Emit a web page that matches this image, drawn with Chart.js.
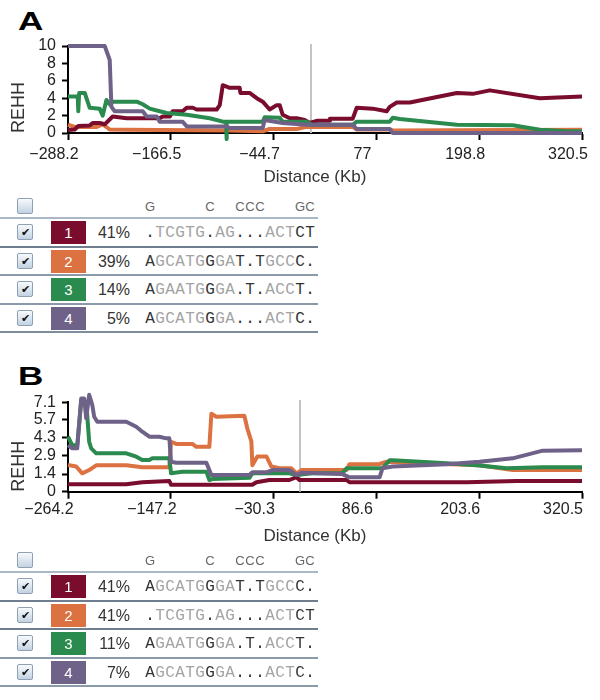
<!DOCTYPE html>
<html>
<head>
<meta charset="utf-8">
<script src="https://cdn.jsdelivr.net/npm/chart.js@4.4.1/dist/chart.umd.min.js"></script>
<style>
  body { margin: 0; background: #fff; font-family: 'Liberation Sans', Arial, sans-serif; }
  #page { position: relative; width: 600px; height: 700px; overflow: hidden; }
  .panel { position: absolute; left: 18px; font-weight: bold; font-size: 26px; line-height: 26px; color: #000; transform: scaleX(1.35); transform-origin: left top; }
  canvas.plot { position: absolute; left: 0; }
  .hap { position: absolute; left: 0; width: 318px; }
  .row { position: relative; height: 26.5px; border-bottom: 2px solid #a9b7c6; }
  .row.head { height: 22px; }
  .box { position: absolute; left: 17px; top: 50%; margin-top: -8px; width: 14px; height: 14px; border: 1px solid #8fa0b3; border-radius: 2px; background: linear-gradient(#f7fafd, #c3d2e2); font-size: 11px; line-height: 14px; text-align: center; color: #111; }
  .sw { position: absolute; left: 51px; top: 50%; margin-top: -11px; width: 35px; height: 23px; color: #fff; font-size: 15px; line-height: 23px; text-align: center; }
  .pct { position: absolute; left: 88px; width: 42px; text-align: right; top: 50%; margin-top: -8px; font-size: 16px; line-height: 18px; color: #333; }
  .seq { position: absolute; left: 145px; top: 50%; margin-top: -8px; font-family: 'Liberation Mono', 'Courier New', monospace; font-size: 16px; line-height: 18px; color: #a3a3a3; white-space: pre; }
  .seq span, .hdr span { display: inline-block; width: 10px; text-align: center; }
  .seq span.k { color: #333; }
  .hdr { position: absolute; left: 145px; top: 50%; margin-top: -7px; font-size: 13px; line-height: 16px; color: #666; white-space: pre; }
</style>
</head>
<body>
<div id="page">
  <div class="panel" style="top:8px">A</div>
  <canvas id="chartA" class="plot" width="600" height="190" style="top:0"></canvas>
  <div id="tableA" class="hap" style="top:195px"></div>

  <div class="panel" style="top:363px">B</div>
  <canvas id="chartB" class="plot" width="600" height="195" style="top:355px"></canvas>
  <div id="tableB" class="hap" style="top:549px"></div>
</div>
<script>
// axis ticks
const xTicksA = [-288.2, -166.5, -44.7, 77, 198.8, 320.5];
const yTicksA = [0, 2, 4, 6, 8, 10];
const xTicksB = [-264.2, -147.2, -30.3, 86.6, 203.6, 320.5];
const yTicksB = [0, 1.4, 2.9, 4.3, 5.7, 7.1];

// REHH curves per haplotype, [distance (Kb), REHH]
const hapA1 = [[-288.2,0.35],[-280.3,0.4],[-276,0.8],[-262.5,0.85],[-259,1.15],[-250.7,1.15],[-244.7,1.0],[-235.3,1.9],[-218.7,1.7],[-179.6,1.7],[-176.1,1.9],[-167.6,1.9],[-164.2,2.5],[-152.4,2.5],[-147.6,2.9],[-140.5,2.9],[-135.8,2.7],[-112.1,2.7],[-108.5,3.2],[-104.9,5.5],[-96.7,5.2],[-84.9,5.2],[-84,4.6],[-73.1,4.6],[-64.7,4.0],[-57.6,3.6],[-49.4,2.7],[-41.1,3.2],[-37.5,3.2],[-34,2.1],[-25.6,1.7],[-17.4,1.7],[-7.9,1.5],[-2,1.15],[6.3,1.4],[21.7,1.4],[22,1.65],[49,1.65],[53.7,2.9],[72.6,2.8],[89.2,2.5],[92.8,3.0],[101.1,3.5],[116.6,3.5],[172.2,4.6],[191.2,4.5],[211.3,4.9],[270.6,4.0],[320.5,4.2]];
const hapA2 = [[-288.2,0.95],[-280,0.7],[-254.2,0.7],[-247.1,1.0],[-238.8,0.4],[-218.7,0.38],[-96.7,0.3],[-57.6,0.2],[-49.4,0.46],[-17.4,0.46],[-5.6,0.7],[49,0.7],[53.7,0.4],[92.8,0.4],[96.4,0.3],[320.5,0.38]];
const hapA3 = [[-288.2,4.2],[-276.7,4.2],[-276,2.5],[-275,4.6],[-268.4,4.6],[-262.5,2.9],[-250.7,2.8],[-247.1,2.0],[-242.7,3.8],[-238.8,3.3],[-235.3,3.6],[-206.8,3.6],[-199.7,3.3],[-191.4,2.8],[-179.6,2.5],[-171.3,2.3],[-147.6,2.1],[-120.4,1.7],[-104.9,1.3],[-101,1.3],[-100.6,-0.7],[-100,1.3],[-57.6,1.3],[-55.3,1.8],[-37.5,1.75],[-34,1.3],[-5.6,1.3],[0.4,0.95],[49,0.95],[53.7,1.3],[92.8,1.3],[96.4,1.75],[104.7,1.6],[172.2,0.95],[238.6,0.9],[270.6,0.38],[302.6,0.2],[320.5,0.2]];
const hapA4 = [[-288.2,10],[-244.7,10],[-238.8,8.4],[-236.8,3.0],[-232.9,2.5],[-199.7,2.5],[-195,1.9],[-183.2,1.9],[-179.6,1.3],[-152.4,1.3],[-147.6,0.76],[-100.6,0.76],[-96.7,0.57],[-57.6,0.57],[-55.3,1.5],[-34,1.15],[-5.6,0.95],[49,0.95],[53.7,0.46],[92.8,0.46],[96.4,0],[320.5,0]];

const hapB1 = [[-264.2,0.59],[-197.9,0.59],[-179.7,0.75],[-148.9,0.85],[-147,0.55],[-54.5,0.55],[-49.9,0.75],[-35.1,0.93],[-12.3,0.93],[-4.3,1.15],[-0.9,0.93],[52.6,0.93],[56,0.75],[189.2,0.75],[246.2,0.85],[320.5,0.85]];
const hapB2 = [[-264.2,2.12],[-254.9,2.0],[-248,1.46],[-240.1,1.72],[-232.1,2.1],[-197.9,2.1],[-179.7,1.94],[-148.9,1.94],[-147,3.97],[-141,3.8],[-122.8,3.8],[-118.2,3.57],[-103.4,3.57],[-101.1,6.2],[-95.4,5.96],[-63.6,6.04],[-60.1,5.0],[-55.6,4.0],[-54.5,2.1],[-48.8,2.8],[-38.5,2.8],[-32.8,2.0],[-23.7,1.86],[-10,1.86],[-4.3,1.46],[1.4,1.72],[52.6,1.72],[56,2.18],[90.2,2.2],[98.1,2.38],[124.3,2.3],[204,2.1],[241.6,1.72],[320.5,1.72]];
const hapB3 = [[-264.2,4.37],[-259.4,3.7],[-253.7,3.7],[-249.2,7.15],[-243.5,7.15],[-240.1,3.97],[-237.8,3.45],[-232.1,3.05],[-197.9,3.05],[-186.5,2.78],[-179.7,2.52],[-171.7,2.52],[-168.3,2.65],[-148.9,2.65],[-147,1.46],[-134.2,1.59],[-106.8,1.59],[-103.4,0.93],[-100,1.0],[-57.9,1.1],[-54.5,1.46],[-12.3,1.46],[-4.3,1.33],[13.9,1.46],[48,1.46],[52.6,1.86],[93.6,1.86],[101.6,2.5],[105,2.5],[166.5,2.26],[200.6,2.1],[234.8,1.86],[275.8,1.94],[320.5,1.94]];
const hapB4 = [[-264.2,3.7],[-259.4,3.45],[-253.7,3.45],[-249.2,7.4],[-245.8,7.4],[-243.5,5.83],[-240.1,7.7],[-236.6,6.9],[-234.4,5.96],[-230.9,5.56],[-197.9,5.56],[-186.5,5.16],[-179.7,4.77],[-171.7,4.37],[-160.3,4.37],[-152.3,4.24],[-148.9,4.24],[-147,2.38],[-141,2.3],[-106.8,2.3],[-101.1,1.33],[-57.9,1.33],[-54.5,1.54],[-38.5,1.54],[-31.7,1.72],[-12.3,1.72],[-4.3,1.33],[1.4,1.5],[48,1.4],[56,1.14],[90.2,1.14],[93.6,1.86],[105,2.0],[166.5,2.18],[204,2.38],[241.6,2.65],[275.8,3.26],[320.5,3.3]];

const hapColors = ["#7a0c2e", "#dc7241", "#2b8a4d", "#6f6288"];
const hapNames = ["1", "2", "3", "4"];

// haplotype tables
const freqA = ["41%", "39%", "14%", "5%"];
const seqA = [".TCGTG.AG...ACTCT", "AGCATGGGAT.TGCCC.", "AGAATGGGA.T.ACCT.", "AGCATGGGA...ACTC."];
const freqB = ["41%", "41%", "11%", "7%"];
const seqB = ["AGCATGGGAT.TGCCC.", ".TCGTG.AG...ACTCT", "AGAATGGGA.T.ACCT.", "AGCATGGGA...ACTC."];
const snpHeader = "G     C  CCC   GC";

Chart.defaults.font.family = "'Liberation Sans', Arial, sans-serif";
Chart.defaults.color = "#222";

// grey line at the core SNP (distance 0)
const coreLine = {
  id: "coreLine",
  beforeDatasetsDraw(chart) {
    const { ctx, chartArea, scales } = chart;
    const x = Math.round(scales.x.getPixelForValue(0));
    ctx.save();
    ctx.strokeStyle = "#c4c4c4";
    ctx.lineWidth = 2;
    ctx.beginPath();
    ctx.moveTo(x, chartArea.top - 2);
    ctx.lineTo(x, chartArea.bottom);
    ctx.stroke();
    ctx.restore();
  },
};

// x axis caption, sits a little left of the plot centre in the original
const distCaption = {
  id: "distCaption",
  afterDraw(chart, args, opts) {
    const { ctx, chartArea } = chart;
    ctx.save();
    ctx.font = "17px 'Liberation Sans', Arial, sans-serif";
    ctx.fillStyle = "#333";
    ctx.textAlign = "center";
    ctx.textBaseline = "middle";
    ctx.fillText("Distance (Kb)", (chartArea.left + chartArea.right) / 2 - 10, opts.y);
    ctx.restore();
  },
};

function makeChart(id, curves, xTicks, yTicks, yMax, areaTop, areaBottom, labelPad, labelShift, captionY) {
  const canvas = document.getElementById(id);
  const H = canvas.height;
  const drawOrder = [2, 3, 1, 0]; // purple on top
  return new Chart(canvas.getContext("2d"), {
    type: "line",
    data: {
      datasets: curves.map((pts, i) => ({
        label: hapNames[i],
        data: pts.map((p) => ({ x: p[0], y: p[1] })),
        borderColor: hapColors[i],
        borderWidth: 4,
        pointRadius: 0,
        tension: 0,
        fill: false,
        borderJoinStyle: "round",
        order: drawOrder[i],
        clip: { left: 2, right: 2, top: 20, bottom: 10 },
      })),
    },
    options: {
      responsive: false,
      animation: false,
      devicePixelRatio: 1,
      layout: { padding: { left: 0, right: 18, top: areaTop, bottom: 0 } },
      plugins: {
        legend: { display: false },
        tooltip: { enabled: false },
        distCaption: { y: captionY },
      },
      scales: {
        x: {
          type: "linear",
          min: xTicks[0],
          max: xTicks[xTicks.length - 1],
          afterBuildTicks: (s) => { s.ticks = xTicks.map((v) => ({ value: v })); },
          afterFit: (s) => { s.height = H - areaBottom; s.paddingLeft = 0; s.paddingRight = 0; },
          border: { color: "#000", width: 2 },
          grid: { drawOnChartArea: false, tickLength: 7, tickColor: "#000", tickWidth: 2 },
          ticks: {
            padding: labelPad,
            labelOffset: labelShift,
            autoSkip: false,
            maxRotation: 0,
            font: { size: 16 },
            color: "#222",
            callback: (v) => String(v).replace("-", "\u2212"),
          },
        },
        y: {
          min: 0,
          max: yMax,
          afterBuildTicks: (s) => { s.ticks = yTicks.map((v) => ({ value: v })); },
          afterFit: (s) => { s.width = 68; s.paddingTop = 0; s.paddingBottom = 0; },
          border: { color: "#000", width: 2 },
          grid: { drawOnChartArea: false, tickLength: 6, tickColor: "#000", tickWidth: 2 },
          ticks: { padding: 6, autoSkip: false, font: { size: 16 }, color: "#222", callback: (v) => String(v) },
          title: { display: true, text: "REHH", align: "start", color: "#333", font: { size: 18 }, padding: { top: 8, bottom: 0 } },
        },
      },
    },
    plugins: [coreLine, distCaption],
  });
}

makeChart("chartA", [hapA1, hapA2, hapA3, hapA4], xTicksA, yTicksA, 10, 46, 133, 5.4, -14, 177);
makeChart("chartB", [hapB1, hapB2, hapB3, hapB4], xTicksB, yTicksB, 7.13, 47, 136.7, 1.7, -19, 181);

function charSpans(text, dark) {
  return text.split("").map((c, i) => {
    const cls = dark && snpHeader[i] !== " " ? ' class="k"' : "";
    return "<span" + cls + ">" + c + "</span>";
  }).join("");
}

function buildTable(id, freqs, seqs, lines) {
  const el = document.getElementById(id);
  let html = '<div class="row head" style="border-bottom-color:' + lines[0] + '">' +
    '<div class="box"></div><div class="hdr">' + charSpans(snpHeader, false) + "</div></div>";
  freqs.forEach((f, i) => {
    html += '<div class="row" style="border-bottom-color:' + lines[i + 1] + '">' +
      '<div class="box">\u2714</div>' +
      '<div class="sw" style="background:' + hapColors[i] + '">' + hapNames[i] + "</div>" +
      '<div class="pct">' + f + "</div>" +
      '<div class="seq">' + charSpans(seqs[i], true) + "</div></div>";
  });
  el.innerHTML = html;
}

buildTable("tableA", freqA, seqA, ["#a9b7c6", "#6f7f8f", "#8a9aab", "#8a9aab", "#7d8d9d"]);
buildTable("tableB", freqB, seqB, ["#a9b7c6", "#6f7f8f", "#6f7f8f", "#8a9aab", "#8a9aab"]);
</script>
</body>
</html>
